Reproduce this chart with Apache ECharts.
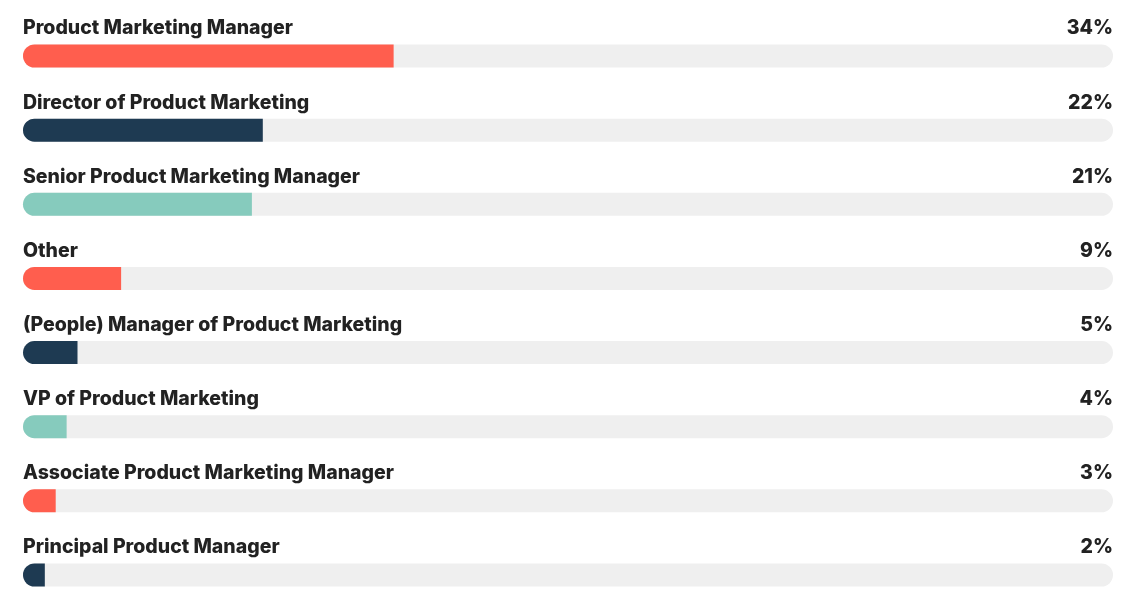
<!DOCTYPE html>
<html>
<head>
<meta charset="utf-8">
<script src="https://cdn.jsdelivr.net/npm/echarts@6/dist/echarts.min.js"></script>
<style>
  html, body { margin: 0; padding: 0; background: #fff; }
  #main { width: 1144px; height: 608px; }
</style>
</head>
<body>
<div id="main"></div>
<script>
// job titles, top to bottom
const roles = [
  'Product Marketing Manager',
  'Director of Product Marketing',
  'Senior Product Marketing Manager',
  'Other',
  '(People) Manager of Product Marketing',
  'VP of Product Marketing',
  'Associate Product Marketing Manager',
  'Principal Product Manager'
];
// share of respondents, in %
const shares = [34, 22, 21, 9, 5, 4, 3, 2];
const palette = ['#ff5e4e', '#1e3a52', '#86cbbd'];

const chart = echarts.init(document.getElementById('main'));

const font = 'Inter, "Noto Sans", sans-serif';

const labelStyle = {
  color: '#222',
  fontFamily: font,
  fontWeight: 800,
  fontSize: 19.5
};

chart.setOption({
  animation: false,
  grid: { left: 23, right: 31, top: 56, bottom: 33 },
  xAxis: { type: 'value', min: 0, max: 100, show: false },
  yAxis: { type: 'category', data: roles, inverse: true, show: false, boundaryGap: false },
  series: [
    {
      // grey track with the title on the left
      type: 'bar',
      data: roles.map(r => ({ value: 100, name: r })),
      barWidth: 23,
      itemStyle: { color: '#efefef', borderRadius: 11.5 },
      label: Object.assign({
        show: true,
        position: [0, -16],
        align: 'left',
        verticalAlign: 'middle',
        formatter: p => p.name
      }, labelStyle),
      silent: true,
      z: 1
    },
    {
      type: 'bar',
      data: shares.map((v, i) => ({
        value: v,
        itemStyle: { color: palette[i % 3] }
      })),
      barWidth: 23,
      barGap: '-100%',
      itemStyle: { borderRadius: [11.5, 0, 0, 11.5] },
      z: 2
    },
    {
      // right-hand percentage labels, drawn on an invisible full-length bar
      type: 'bar',
      data: shares.map(() => 100),
      barWidth: 23,
      barGap: '-100%',
      itemStyle: { color: 'rgba(0,0,0,0)' },
      label: Object.assign({
        show: true,
        position: ['100%', -16],
        align: 'right',
        verticalAlign: 'middle',
        formatter: p => shares[p.dataIndex] + '%'
      }, labelStyle),
      silent: true,
      z: 3
    }
  ]
});
</script>
</body>
</html>
